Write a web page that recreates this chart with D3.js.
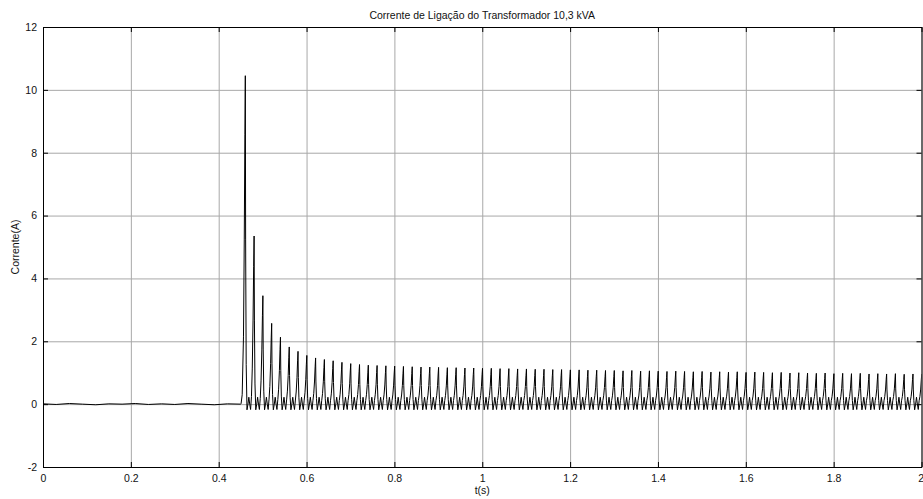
<!DOCTYPE html>
<html>
<head>
<meta charset="utf-8">
<script src="https://cdn.jsdelivr.net/npm/d3@7"></script>
<style>
  body { margin: 0; background: #fff; }
  text { font-family: Arial, "Liberation Sans", Helvetica, sans-serif; }
</style>
</head>
<body>
<svg width="923" height="499"></svg>
<script>
// x and y ticks
const xTicks = [0, 0.2, 0.4, 0.6, 0.8, 1, 1.2, 1.4, 1.6, 1.8, 2];
const yTicks = [-2, 0, 2, 4, 6, 8, 10, 12];

// before the switch (t, A)
const preSwitch = [
  [0, 0.01], [0.03, -0.01], [0.06, 0.02], [0.09, 0.0], [0.12, -0.02], [0.15, 0.01],
  [0.18, 0.0], [0.21, 0.02], [0.24, -0.01], [0.27, 0.01], [0.3, -0.01], [0.33, 0.02],
  [0.36, 0.0], [0.39, -0.02], [0.42, 0.01], [0.45, 0.0], [0.451, 0.02], [0.4535, 0.3]
];

// inrush peaks, one per 50 Hz cycle
const firstPeak = 0.4606;
const period = 0.02;
const peaks = [
  10.45, 5.35, 3.45, 2.57, 2.13, 1.82, 1.68, 1.55, 1.47, 1.42,
  1.38, 1.33, 1.29, 1.26, 1.24, 1.23, 1.22, 1.21, 1.2, 1.19,
  1.18, 1.18, 1.17, 1.16, 1.16, 1.15, 1.15, 1.14, 1.14, 1.13,
  1.13, 1.12, 1.12, 1.11, 1.11, 1.1, 1.1, 1.09, 1.09, 1.08,
  1.08, 1.07, 1.07, 1.06, 1.07, 1.05, 1.06, 1.05, 1.04, 1.05,
  1.04, 1.03, 1.04, 1.02, 1.03, 1.02, 1.03, 1.01, 1.02, 1.01,
  1.0, 1.01, 0.99, 1.0, 0.99, 0.98, 0.99, 0.97, 0.98, 0.97,
  0.98, 0.96, 0.97, 0.96, 0.97, 0.95, 0.96
];
const nextPeak = 0.96;

// shape of one cycle: [phase, offset, fraction of peak]
const fallShape = [[0, 0, 1], [0.035, 0, 0.5], [0.1, 0, 0.12], [0.19, -0.18, 0], [0.3, 0.0, 0],
  [0.4, 0.22, 0], [0.5, 0.0, 0], [0.6, -0.17, 0]];
const riseShape = [[0.7, 0.08, 0.03], [0.79, 0.05, 0.2], [0.88, 0, 0.5], [0.95, 0, 0.82]];

const margin = {left: 43, right: 1.5, top: 27, bottom: 32};
const width = 923 - margin.left - margin.right;
const height = 499 - margin.top - margin.bottom;

const svg = d3.select("svg");
const g = svg.append("g").attr("transform", "translate(" + margin.left + "," + margin.top + ")");

const x = d3.scaleLinear().domain([0, 2]).range([0, width]);
const y = d3.scaleLinear().domain([-2, 12]).range([height, 0]);

// build the trace
let trace = preSwitch.slice();
riseShape.slice(1).forEach(s => trace.push([firstPeak + (s[0] - 1) * period, s[1] + s[2] * peaks[0]]));
peaks.forEach((p, i) => {
  const t0 = firstPeak + i * period;
  const pn = i + 1 < peaks.length ? peaks[i + 1] : nextPeak;
  fallShape.forEach(s => trace.push([t0 + s[0] * period, s[1] + s[2] * p]));
  riseShape.forEach(s => trace.push([t0 + s[0] * period, s[1] + s[2] * pn]));
});
trace.push([firstPeak + peaks.length * period, nextPeak]);

// grid
g.append("g")
  .attr("transform", "translate(0," + height + ")")
  .call(d3.axisBottom(x).tickValues(xTicks).tickSize(-height).tickFormat(""))
  .call(a => a.select(".domain").remove())
  .selectAll("line").attr("stroke", "#a8a8a8");
g.append("g")
  .call(d3.axisLeft(y).tickValues(yTicks).tickSize(-width).tickFormat(""))
  .call(a => a.select(".domain").remove())
  .selectAll("line").attr("stroke", "#a8a8a8");

g.append("defs").append("clipPath").attr("id", "clip")
  .append("rect").attr("width", width).attr("height", height);

g.append("path")
  .datum(trace)
  .attr("clip-path", "url(#clip)")
  .attr("fill", "none")
  .attr("stroke", "#000")
  .attr("stroke-width", 1)
  .attr("d", d3.line().x(d => x(d[0])).y(d => y(d[1])));

// axes, ticks inward on all four sides
const fmt = d => String(+d.toFixed(1));
const axBottom = g.append("g").attr("transform", "translate(0," + height + ")")
  .call(d3.axisBottom(x).tickValues(xTicks).tickSizeInner(-5).tickSizeOuter(0).tickPadding(8).tickFormat(fmt));
const axTop = g.append("g")
  .call(d3.axisTop(x).tickValues(xTicks).tickSizeInner(-5).tickSizeOuter(0).tickFormat(""));
const axLeft = g.append("g")
  .call(d3.axisLeft(y).tickValues(yTicks).tickSizeInner(-5).tickSizeOuter(0).tickPadding(6).tickFormat(d => d));
const axRight = g.append("g").attr("transform", "translate(" + width + ",0)")
  .call(d3.axisRight(y).tickValues(yTicks).tickSizeInner(-5).tickSizeOuter(0).tickFormat(""));

[axBottom, axTop, axLeft, axRight].forEach(a => {
  a.select(".domain").attr("stroke", "#000");
  a.selectAll("line").attr("stroke", "#000");
  a.selectAll("text").attr("fill", "#111").style("font-size", "10.5px");
});
// keep the last x label inside the page
axBottom.selectAll(".tick text").filter(d => d === 2).attr("text-anchor", "end").attr("dx", "0.2em");

svg.append("text")
  .attr("x", margin.left + width / 2).attr("y", 19)
  .attr("text-anchor", "middle").style("font-size", "10.5px").attr("fill", "#111")
  .text("Corrente de Ligação do Transformador 10,3 kVA");

svg.append("text")
  .attr("x", margin.left + width / 2).attr("y", 494)
  .attr("text-anchor", "middle").style("font-size", "10.5px").attr("fill", "#111")
  .text("t(s)");

svg.append("text")
  .attr("transform", "translate(19," + (margin.top + height / 2) + ") rotate(-90)")
  .attr("text-anchor", "middle").style("font-size", "10.5px").attr("fill", "#111")
  .text("Corrente(A)");
</script>
</body>
</html>
